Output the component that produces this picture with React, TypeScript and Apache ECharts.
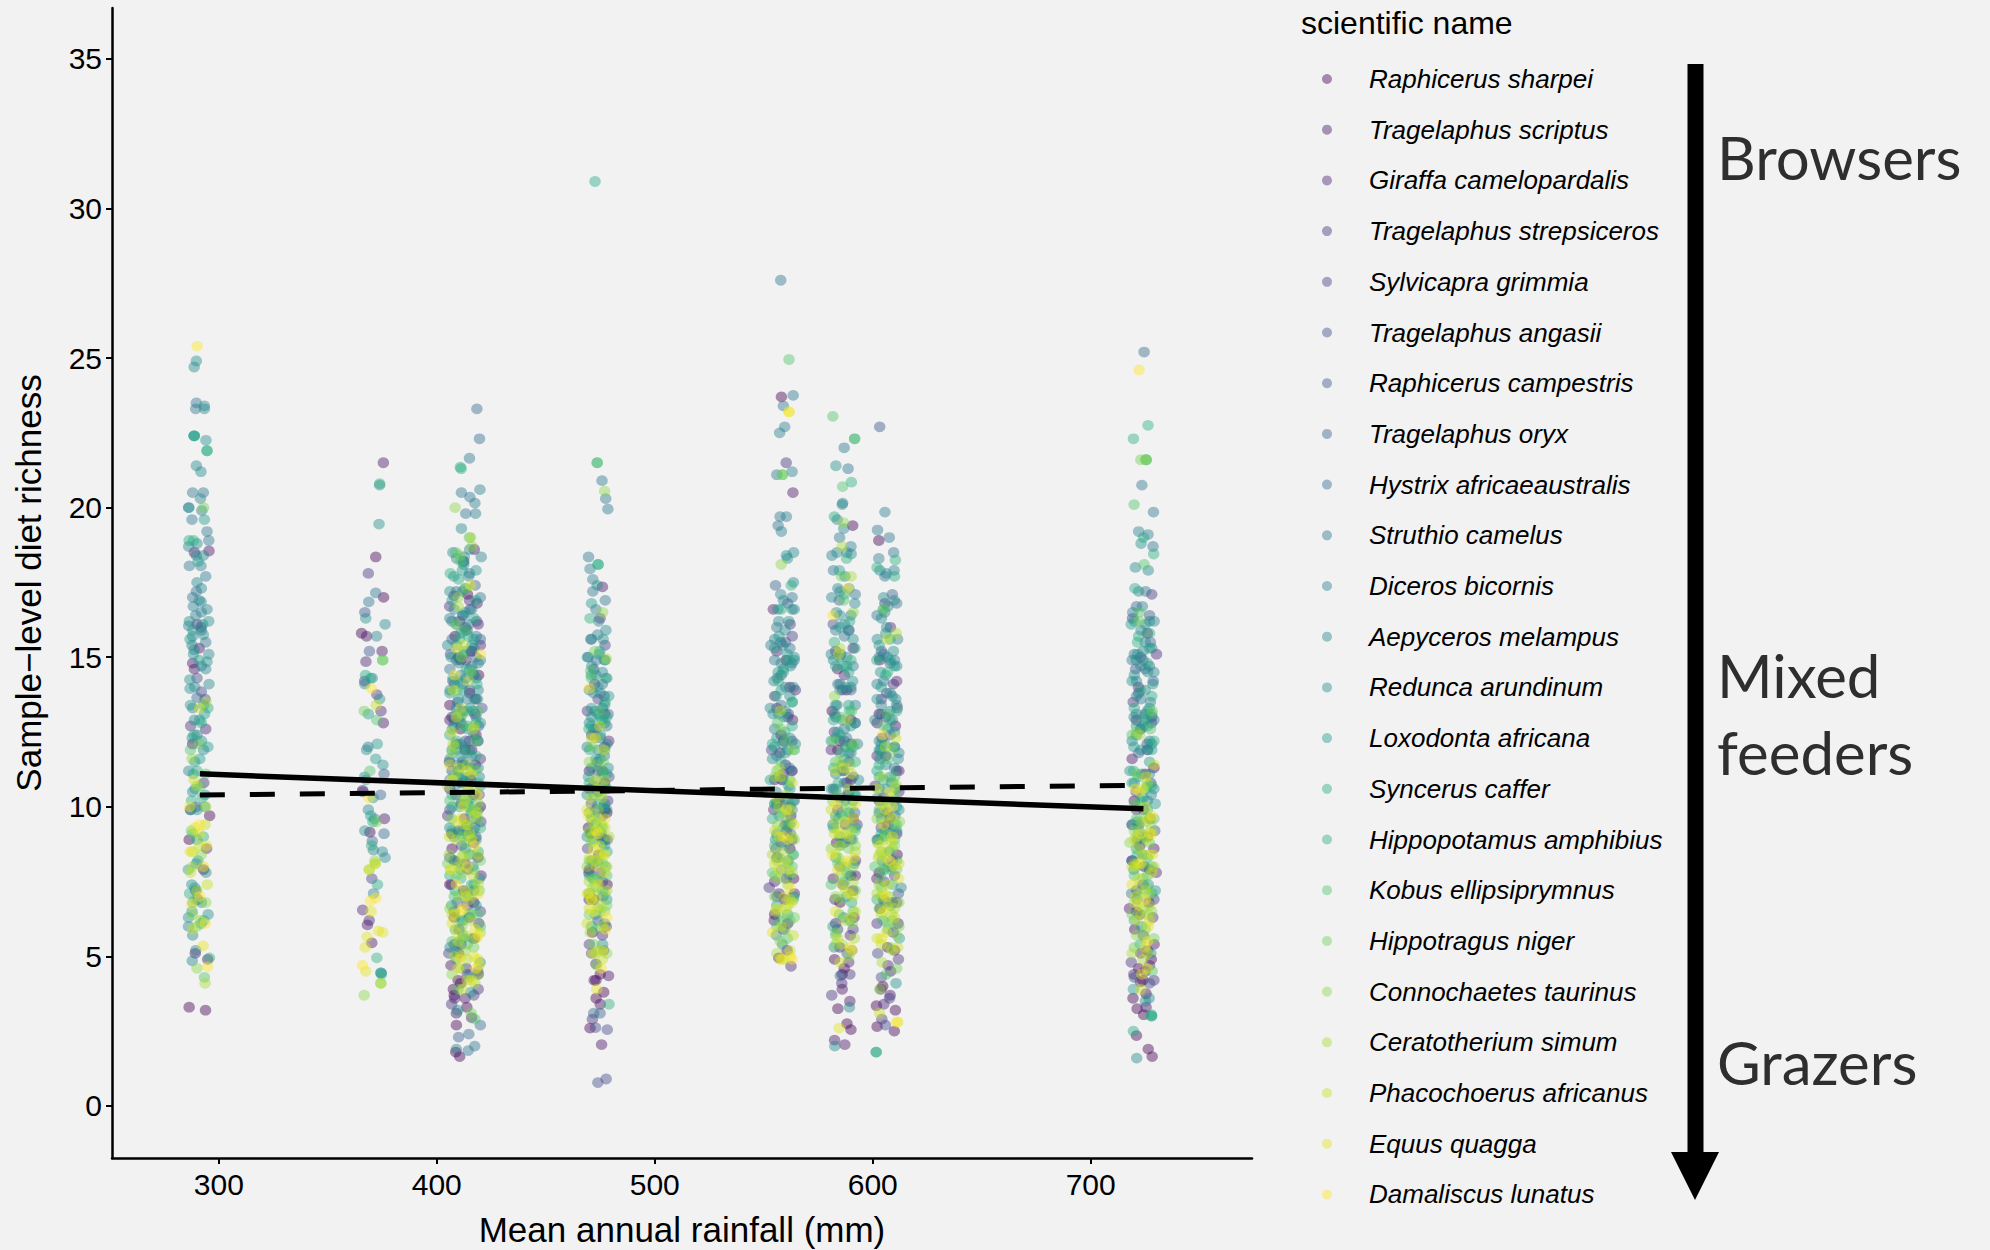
import React, { useEffect, useRef } from "react";
import * as echarts from "echarts";

const speciesNames = ["Raphicerus sharpei","Tragelaphus scriptus","Giraffa camelopardalis","Tragelaphus strepsiceros","Sylvicapra grimmia","Tragelaphus angasii","Raphicerus campestris","Tragelaphus oryx","Hystrix africaeaustralis","Struthio camelus","Diceros bicornis","Aepyceros melampus","Redunca arundinum","Loxodonta africana","Syncerus caffer","Hippopotamus amphibius","Kobus ellipsiprymnus","Hippotragus niger","Connochaetes taurinus","Ceratotherium simum","Phacochoerus africanus","Equus quagga","Damaliscus lunatus"];
const speciesColors = ["68,1,84","71,19,101","72,34,116","71,47,125","68,61,132","63,72,137","58,83,139","53,95,141","49,104,142","44,115,142","40,125,142","36,134,142","33,144,140","31,154,138","34,168,132","43,176,127","79,196,106","112,207,87","139,214,70","168,219,52","197,224,33","226,228,24","253,231,37"];

// Each list is x (rainfall, mm), y (richness), x, y, ...
const raphicerusSharpei = [286.4,3.3,293.9,3.2,295.8,9.7,286.4,8.9,375.6,17,365.5,15.8,369.3,9.15,372,18.35,410.5,1.65,408.7,1.8,409,2.7,413.8,3.3,407.6,3.9,409.8,4.2,417.2,5.6,412.3,7.2,418.9,8.3,406.9,9.1,415.5,10.9,410.8,12.6,419.2,14.4,408.4,15.7,414.1,17.1,470.3,2.6,476.6,3.8,473.1,3.6,471.4,5.8,478.1,7.4,469.6,9.3,475.9,11.2,556.9,4.95,559.7,6.9,563.7,7.6,556.1,8.3,562.4,9.7,558.3,10.9,560.3,14.9,558.1,23.7,588.2,2.75,590,2.55,584,3.25,582.5,4.9,586.9,4.6,590.9,7.2,583.4,8.8,588.7,10.4,581.4,13.2,590.8,19.4,602,2.65,601.7,3.35,610.4,3.2,609.9,2.5,604.6,4,606.8,5.3,603.4,6.6,611.2,8.4,606,11.7,602.8,18.9,728.2,1.65,726.4,1.9,721,2.35,724.3,3.05,721.3,3.25,719.4,3.6,725.4,3.75,727.8,4.9,720.2,5.9,726.7,6.8,722.5,8.7,729,11.3,
  410,5.1,417,6.8,407,8.6,420,10,413,11.9,406,13.4,416,15.2,475,4.4,470,7.9,478,9.8,555,6.4,562,8.6,558,12.4,585,6.8,591,9.6,584,11.9,603,7.8,610,5.2,607,9.4,722,4.6,727,7.9,720,10.2,288,12.1,293,7.9,
  411,4.1,408,3.7,414,9.2,418,13.6,406,7.4,473,4.2,477,10.8,561,6.1,556,10.1,586,4.4,590,12.9,609,6.8,603,13.1,724,4.2,719,8.2];
const tragelaphusScriptus = [288.8,18.5,295.5,18.55,288,14.8,288.8,14.6,289.2,5.1,294.9,4.9,375.5,21.5,367.8,15.7,374.9,15.2,375.5,12.8,370.2,5.45,368.2,6.05,376,9.6,366,10.55,417.2,18.6,409,3.1,416,2.95,406.5,4.7,411.1,5.4,414.9,6.3,420.3,7.7,408.1,8.2,412.7,9.6,417.7,11.4,406,12.9,415.1,13.8,410.4,16.2,418.5,16.8,476,17.35,475.6,2.05,472.2,4.2,478.8,4.35,469.9,6.9,474.3,8.4,477.2,9.9,471.1,12.4,560.7,5.2,554.8,6.2,562.9,8.9,557.4,11.8,563.2,12.9,554.4,16.6,563.4,20.5,560.4,7.6,587.2,2.05,582.5,2.2,589.5,3.5,584.9,5.3,591.4,6.3,581.9,7.6,587.5,9.4,590.1,12.1,583.9,14.6,603.7,3.9,608.2,4.5,611.6,6.1,601.9,7.6,606.7,9.8,610.4,12.7,603.2,14.9,725.4,3.3,722.8,4.15,729.1,5.4,717.8,6.6,724.5,8,727.2,9.6,720.9,12.9,726,15.8,
  419,4.4,408,6.3,413,8.1,406,10.6,418,12.4,411,14.9,472,6.9,477,8.9,470,11.2,560,9.4,555,10.9,562,14,590,10.9,583,6.1,588,13.9,605,6.9,611,9.1,602,12.8,723,5.1,729,8.6,719,11.6,291,15.3,287,9.9,
  413,3.6,416,11.9,409,12.1,475,3.4,471,9.1,559,11.1,564,7.1,586,3.9,592,7.7,608,3.7,612,11.2,725,4.5,721,6.5];
const giraffaCamelopardalis = [290,16.1,289.4,7.2,294.4,8.6,293.1,10.8,366,6.55,369,6.2,367.5,14.85,374.4,13.2,408.2,3.6,413.6,4.6,419.3,6.1,406.7,7.4,416.9,8.8,411.2,10.1,405.8,11.5,418.7,12.2,413.3,14.9,407.9,17.05,420,15.4,473,4.75,477.7,6,469.8,7.8,475.1,9,478.9,12.2,472.4,14.1,562.5,4.67,557,7.1,554.6,9.9,559.1,12.2,564.5,13.9,556,15.2,585.8,4.1,589.7,5.7,582.7,6.9,592.1,8.2,586.4,11.2,581,11.9,591,15.3,605.1,3.4,609.4,5.8,602.4,8.9,612,10.5,604.3,12.3,608.1,16,719.8,4.4,726.1,5.2,722.5,6.4,730.1,7.8,719,9.4,725,11.1,721.9,14,730.2,15.1,
  414,6.7,410,9.2,417,10.4,407,13,419,16.1,475,7.8,470,10.6,477,13.1,558,8.8,563,11.2,556,13.3,584,9.9,590,7.7,587,14.4,609,8.2,603,10.2,611,14.2,724,7.4,721,9.9,728,13,294,12.6,
  408,5.4,415,16.9,412,13.2,476,5.7,474,10.5,555,7.5,560,11.4,585,12.2,589,4.8,607,4.7,602,11.7,722,9.4,727,4.7];
const tragelaphusStrepsiceros = [290.4,6.9,287.1,12.7,366.9,14.2,368.6,17.8,372.5,13.75,406.8,3.4,410.2,5.9,414.2,7.9,420.2,9.5,408.7,10.4,417.5,13.1,413.9,15.9,405.9,16.7,471.4,2.9,476.5,5.2,478.4,10.2,469.1,13.2,474.9,16.3,552.5,7.3,560.5,9.2,555,13.7,560.3,21.5,562.1,16.1,581.2,3.7,589.5,4.4,586.3,7.4,592.8,9.4,582.4,12.5,604.2,2.9,611.8,4.9,605.2,7.5,601.1,10.7,609.5,14.1,718.6,4.8,728.5,6.3,724.2,9.9,719.5,13.5,728,17.1,
  411,12.8,417,14.4,408,6.5,419,3.9,473,9.9,477,12,559,5.9,563,12.2,587,8.8,583,15.2,606,13,602,6.1,726,11.9,721,7.2,729,4.2,
  405,9.7,414,4.4,420,11.6,470,5.4,476,7.5,557,10.2,588,10.8,605,10.3,611,6.8,723,12.6];
const sylvicapraGrimmia = [293.7,13.6,289.6,10,370.2,7.6,366,10.5,405.5,5.1,418.8,4.5,411.4,8.7,419.4,10.4,407.4,14.2,415.9,15.2,412.2,18.2,469.2,8.6,473.7,11.5,477.2,15.4,559.2,10.1,553.6,11.9,563.1,15.7,583.9,5.9,590,8.9,586.1,13.9,607.7,3.6,603.9,9.3,610.9,11.2,605.6,16.8,724.1,5.7,720.8,10.5,727.9,12.8,719.2,16.3,
  406,8.3,415,12.2,420,6.5,471,5.1,476,9.7,556,7,561,13,582,10.6,591,5.9,610,7.7,604,13.6,729,6.9,722,13.8,
  410,11,417,3.7,474,13.6,589,11.5,608,9.6,726,9];
const tragelaphusAngasii = [473.9,0.78,477.7,0.9,478.2,2.55,472.8,2.62,409.4,6.8,417,7.2,412,11.4,420.7,13.3,406.3,15.1,415.2,16.6,470.9,10.1,476.8,13.7,555.5,8.6,561.3,13.1,585,10.3,591.9,12.8,581.9,16.1,602.3,5.1,608.8,8,605.8,2.7,611.3,13.3,721.4,8.9,727.6,10.8,722.9,15,290,14.3,292,13.85,
  413,16,407,11.2,418,9,474,6.2,479,11,558,14.4,589,15.9,585,8,608,12.4,725,13.1,720,4.3,
  415,13.9,409,14.9,472,8.1,562,10,587,12.2,604,4.3,727,4.1];
const raphicerusCampestris = [603.2,22.7,367,16.5,369.1,15.2,291.8,16,413.2,12.2,418.3,16.2,409.6,13.5,417.4,9.3,473.1,12.6,478.2,8.9,557.8,15.5,562.7,11.2,588.3,5.1,585.3,15.1,606.4,13.8,611.8,7.1,725.9,12.1,720.6,14.6,729.4,9.2,
  410,15,415,11,406,9.9,472,14.6,560,15.5,583,13,591,11,604,15.2,727,16.4];
const tragelaphusOryx = [375.8,11.1,374.2,10.4,410,2.3,411.2,10.8,417.6,17.4,419.2,12.7,474.9,3.1,470.7,15.6,476.2,7,555.4,17.4,564,10.2,584.6,16.9,590.4,5.2,603.6,11.9,609,17.1,722,11.8,728.7,14.2,718.9,8.2,
  412,16.4,408,12.9,420,15.6,474,11.2,561,16.8,587,10.8,610,12,724,14.9];
const hystrixAfricaeaustralis = [724.5,25.2,290,13.65,289.7,17.2,370.4,8.85,375.8,9.1,414.7,2.4,420,2.7,418.4,23.3,419.6,22.3,413.4,14.3,407,15.6,472,3.1,478.6,13.1,556.2,14.3,562.2,9.1,585.1,4.35,591.7,9.8,605,15.1,610.2,9.7,721.3,6.9,727.4,15.5,
  416,14.7,409,17.2,472,12.6,563,14.8,585,14.1,608,14.8,721,16.7,
  413,11.4,418,15,476,14.1,558,13.4,590,13.9,603,9.8,725,14.6,292,15.9];
const struthioCamelus = [289.7,23.5,289.4,23.3,292.9,20.5,288,20.5,287.7,19.6,292.2,19.9,294.6,19.2,295.4,18.9,286.5,18.05,294,17.7,368.8,16.85,372,17.15,368.5,12,417.4,2,414.4,1.85,415,21.65,411.3,20.5,413.3,19.8,415.2,20.35,409.4,11.4,414.7,16.1,418.1,15.7,475.8,20.9,477.5,20.3,478.5,19.95,469.6,18.35,477.3,16.9,471.6,17.2,473.2,14.9,557.8,27.6,563.5,23.75,559,23.4,556,21.1,557.5,19.7,556.6,19.4,584.8,19,587,15.7,586.9,22,588.7,21.3,602.2,19.25,607.6,19,609.6,18.5,605.6,17.7,723.5,20.75,728.8,19.85,725.2,17.2,728.6,18.7,
  406,14.6,415,17.8,418,13,410,15,476,13.3,470,13.9,556,16,562,15.3,582,17.9,592,17.1,584,14.1,602,16.4,611,16.8,605,14.2,720,15.1,728,15.3,723,13.6,288,17,294,15.5,
  412,14.1,407,16.2,420,17,416,11.7,473,16.6,478,12.7,555,14.9,563,17,587,12.6,590,16.4,609,12.9,604,13.1,721,13.1,727,14.7,290,12.4];
const dicerosBicornis = [288.3,16.7,286.2,16.05,289.4,16.4,294.6,16.6,292,16.5,291.8,18.05,287.7,15.4,289.4,5.2,374.4,4.45,371,7.1,370.9,8.55,371.4,9.6,409,1.9,417.8,19.8,417.5,20.15,412.6,18.35,420.4,18.35,419.8,20.6,412.4,15.1,408.1,14.1,416.7,13.2,411.7,11.5,413.8,9.4,469.5,15,471.6,17.6,470.3,17.95,474.3,16.2,473.8,15.75,472.6,13.2,476.9,11.7,563,21.2,559.6,22.7,557.3,22.5,558.1,19.2,560.4,19.7,553.3,15.4,556.8,13.1,561.8,11.3,558.2,7.9,586.2,20.15,583.7,19.6,590,18.7,581.3,18.4,588.1,18.5,583.6,13.4,589,11.8,581.7,9.4,586.6,6.3,605.6,19.85,602.8,18.3,609.8,17.9,605.5,16.5,611.4,15.6,603.9,13.4,608.7,10.8,604.4,8.2,722,19.2,726.3,19.1,723.7,16.7,719.3,16.5,727.4,13.5,723.3,11.1,718.8,7.1,
  406,16.3,411,14.4,419,14.8,415,11.9,408,12.7,478,14.3,471,11.3,475,12.3,555,12.6,560,14,564,16.6,587,16.1,583,15.9,590,14,593,12.1,607,16.7,603,12.2,610,14.9,612,11.8,721,14.2,725,15.5,729,12.9,292,14.7,288,13.3,
  413,17.3,417,15.3,410,12.9,406,10.9,418,9.6,473,14.4,469,12,477,10.1,559,16.9,556,11.7,562,9.4,585,17.2,591,14.7,583,11.1,589,10.5,608,13.8,602,14.1,606,9.2,611,13.4,719,14.9,727,16.2,723,14.7,726,10.2];
const aepycerosMelampus = [288.7,24.7,293.4,23.4,293.4,23.3,291.6,20.3,286.2,20,286.2,20,291.8,21.2,289.7,21.4,286.2,18.7,290,18.8,289.7,18.4,292.9,18.4,290,17.5,292,17.3,291.9,16.85,288,15.7,288.7,15.25,295.4,15.1,294,14.6,287.8,4.85,286.1,6,288,5.7,289.7,8.1,286.2,11.2,288.8,12.9,294.1,7.8,295.5,14.1,367,14.1,370.4,14.3,366.9,11,368.6,9.9,373.8,20.75,376.3,16.1,372.4,15.7,376.3,8.3,375,8.5,412.4,18.2,407.4,18.5,409.1,18.3,415.1,18.6,411.3,19.3,414.7,17.7,411.9,16.4,406.1,13.9,417.2,13.6,410.8,12.1,419.5,11,414.2,10.1,408,9,416.6,8,419.9,4.8,406.1,5.3,409.6,3.2,474.5,15.1,477.6,15.9,476,14.5,471.1,14.7,469.1,15,478.1,12.1,473.1,10.9,470.5,9.1,477,6.1,471,8.2,563.7,18.5,560.4,18.4,557.8,17.1,563.6,17.5,556.9,16.2,559.8,15.9,562.3,14.7,554.7,14.2,558.7,12.1,555.6,10.5,561.2,8.2,555.8,5.7,563.6,14,586,20.1,586.7,19.3,583.6,18.5,590.1,18.45,587.3,17.7,581.2,17,583.4,16.5,591.8,16.8,588.1,15,583.2,12.3,587.1,10.2,591.5,8.1,582.6,2,589.3,3.3,603.3,17.9,606.2,17.8,609.9,16.9,602.1,15.6,606.7,15,610.6,13.6,603.4,11.6,608.1,9.1,613,7.3,720.5,18,726.4,17.9,723.1,15.9,729.1,16.2,720.9,14.9,726.2,14.5,722.9,12.6,727.8,10.4,719.8,7.9,721.1,1.6,725.1,3.5,726.8,3.6,
  405,15.4,409,13.3,413,15.9,417,12.4,420,14.9,412,10.9,407,11.9,418,8.9,472,13.8,477,13.4,470,12.8,474,11.9,558,14.8,553,13.3,564,15,561,11.9,556,9.1,589,15.9,581,15.1,585,13.9,592,13.4,586,11.4,604,16.3,611,14.7,608,13.2,601,12.9,606,10.6,722,17.2,729,14.5,725,13.9,719,12.2,727,12.2,289,14,293,11.9,288,10.5,
  408,16.6,411,11.7,416,16.6,414,13.6,406,9.3,419,13.9,475,13.8,478,10.6,471,15.6,555,15.6,559,10.9,562,13.7,584,17.3,588,12.3,582,14.9,590,11.8,605,17,610,11.3,603,15,607,8,721,13.7,727,11.1,724,15.2,720,10.8,291,16.9];
const reduncaArundinum = [289.7,24.9,288.7,22.4,294.1,22.25,292.6,16.1,295.4,16.2,286.5,16.2,292.9,15.75,288.4,15.1,294.6,14.85,286.7,14.25,286.8,13.95,287.8,12.3,292.1,12.2,291.2,12.9,293.7,10.4,290,9.9,287.6,7.4,286.1,6.3,295.1,6.4,292,6.8,373.5,19.45,373.8,13.6,367.4,16.3,375.3,11.4,367.8,11.9,367,9.2,370.8,10.3,412.4,18.1,407.8,17.7,411.8,17.2,413,16.5,416.2,15.4,410.2,14.8,418.1,14.3,415.3,13.3,407.1,12.6,412.6,12,408.5,10.7,419,9.9,414.7,9,410.8,7.9,418,6.7,412,5.6,415.7,3.8,473.6,17.4,476.3,15.6,470.9,14.4,474,13.1,478.6,11.3,472,10.7,475.5,9.1,470.1,7.1,476.1,5.4,556.5,16.6,561.5,16.2,558.7,15.4,554.3,13.1,564.5,12.1,559.8,9.9,555.4,8.9,563.8,7,558.6,5.4,560.9,18.3,583.1,21.4,589.1,17.3,584.9,16.4,590.8,14.2,582.6,13.1,587.6,12,593.5,10.9,585.1,9,589.6,6.2,582.3,5.3,606.4,16,609.5,15.2,603.6,14.5,605.5,12.1,611.7,11.6,602.2,10.3,607.6,8.5,605.7,6.8,610.7,4.1,723.1,18.8,725,16.1,721.5,15.1,728.5,14.1,719.9,13,726.2,11.9,723.3,9.1,729.6,7.2,727.6,5.1,
  406,17.2,418,17.9,414,12.6,410,11.2,420,12.8,411,15.8,416,10.3,477,14.9,473,12.3,469,10.4,478,9.9,557,11,562,10.6,554,11.6,560,13.2,564,14.9,591,15.6,586,12.9,581,12.2,589,9.8,583,10.6,609,13.7,606,11.4,602,13.6,612,9.9,604,9.6,720,14.4,726,13.2,723,11.9,718,11.2,729,10.6,293,13.4,289,11.5,
  409,15.4,415,14.6,406,11.6,412,9.2,419,11.3,413,7,475,11.6,471,13,477,12.8,469,9,559,14.6,563,16.6,556,12.3,585,15,588,14.7,583,8.3,591,10.2,606,15.8,610,10.2,603,11.9,608,11,721,12.4,728,12.1,725,12.9,719,14.2,724,8.4];
const loxodontaAfricana = [288.7,22.4,293.4,19.6,290.5,18.2,288.1,15.9,286.8,15.6,293.5,13.1,291.3,11.6,288.3,11.1,295,12,289.1,10.6,287.1,9.9,293.5,10,290.4,8.2,287.7,6.5,291.9,6.1,286,7.9,372,11.6,368.6,13.1,374.4,4.45,367.5,10.9,369.7,9.7,372.7,12.1,411.7,17.9,408.9,16.1,417.9,16.9,406.6,15,413.6,14.6,418.7,13.6,411,13,409,11.9,415.6,11.3,407.1,10,413.2,8.6,419.6,7.6,406.8,6.7,416.2,5.6,408.9,4.9,414.8,4.3,471,16.8,477.2,14.9,473.9,14,478.9,13.7,470.8,12.7,475.1,12.4,469.6,11,476.5,10,471.9,8.9,478,6.9,472.7,6.4,560.8,15.1,556.6,14.5,563.1,13.5,559.3,13,554.8,12,561.4,10.7,557.1,9.7,563.6,8.4,556,6.7,584.7,17.9,591.8,15.3,587.4,14,582.9,13.4,586.7,11.2,591.5,10.4,584.3,9.6,589.4,7.7,581.8,6,609.9,14.7,603.9,14,606.9,12.6,602.8,10.6,610.9,10,605.3,7.9,612.2,5.6,601.6,1.8,718.6,16.1,726.9,13.3,724.1,12.7,719.8,12,729.6,10.1,721.3,9.5,726.4,7.4,723.4,6,719.6,3.9,727.9,3,
  407,16.9,412,13.9,419,12.2,416,9.8,408,8.2,414,7.1,476,12.9,471,13.3,474,10.1,478,11.1,555,15.3,558,13.9,562,12.3,553,10.9,589,13.4,584,12.5,592,12.8,581,10.6,586,8.8,604,12.1,610,12.5,607,10.1,602,8.9,721,12.7,727,11.5,724,10.3,719,9.4,291,14.9,287,13.4,
  410,13.6,417,15.6,406,13.8,415,8.4,420,10.7,412,6.2,473,11.6,477,8.7,470,9.8,560,11.8,557,15.7,563,9.9,585,16,590,12.7,583,9.7,588,7,608,14.9,603,15.4,611,9.2,605,9,720,16.2,726,12.7,723,8.9,728,11.9,289,7.3];
const syncerusCaffer = [294.6,21.9,288.7,22.4,295,13.3,286.4,18.9,288.6,12.4,292.4,10.3,290,8.9,288.1,6.8,293.1,6.2,367.3,14.4,369.6,14.3,374.6,4.4,370.7,9.5,372.8,7.4,410.8,21.35,414.5,15.7,410,17.6,412.7,15.2,407.4,14.3,418.4,14.1,414,12.7,410.5,10,416.5,9.2,408.4,7.2,414.8,6.4,474,18.1,474.8,15.2,477.2,13.5,470.2,11.9,476,11.1,473,9.4,478.1,8.5,471.6,7.6,561.4,14.9,555.7,13.7,558,11.5,563.4,10.2,556.5,9,561,6.4,582.4,19.7,589.4,16.2,586.4,14.7,582.1,11.3,592.1,10.4,585.1,8.7,590.3,6.8,610,17.7,604.8,16.6,601.9,14.9,607.9,12.9,611,10.6,603.9,9.1,608.2,6.7,725.4,21.6,724.2,19,720.3,17.3,727,15.3,722.8,13.9,729,12.2,725.5,10.6,721.4,8.4,727.9,3.05,719.6,2.5,
  472.6,30.9,417,16.3,410,14.2,406,12.4,414,9.4,419,8.5,411,6.2,477,11.9,471,9.6,558,16.6,563,12.7,555,10.1,587,17.1,583,14.7,591,12,585,12.4,608,15.6,603,11,611,8.2,722,15.7,728,13.7,724,9,719,10.8,292,12.8,
  413,11,407,10.4,416,7.4,409,5.2,418,11.7,475,12.9,470,7.7,476,8.8,559,14.5,554,12.1,561,9.4,589,14.5,582,12.9,587,11.6,592,9.3,606,14.4,610,12,602,11.2,726,14.8,720,13.3,723,10.2,728,10.7];
const hippopotamusAmphibius = [288.4,18.9,294.6,21.9,295.7,4.95,287.5,10.2,292.9,9,286.6,7.1,373.8,20.8,372.5,4.95,370.1,8.7,411.2,21.3,406.2,17.8,410.4,15.6,416.7,14.5,408.8,13.1,413.7,11.8,419.1,10.8,410.9,9.1,417.1,7.4,408.5,5.9,473.6,21.5,474,18.1,470.3,16.3,479,3.4,477.4,14.3,469.8,12.6,474.9,10.6,477.5,8,562.6,17.4,556.8,14.2,559.7,12.5,555.2,10.1,562,7.7,591.7,22.3,590.2,20.85,588,18.3,582.4,15.5,589.3,13.2,584.2,10.8,590.8,8.9,610.4,18.25,602,18,606.8,14.5,603,11.4,610,9.4,604.8,6.2,601.6,1.8,726.3,22.75,719.6,22.3,728.9,18.45,721.5,15.5,728,13.1,719.7,11.2,726,8.3,722.7,5.4,727.9,3,
  414,13.2,420,9.3,407,9.2,411,7.6,472,10.4,476,7.2,471,6,560,8.7,557,6.2,563,13.5,586,9.7,592,11.5,582,9.3,605,10.9,609,7.4,602,6.9,722,11,726,9.9,728,7.1,720,6.2,290,11.2,
  409,12.2,418,12.8,412,5.7,406,7.7,415,10,474,8.2,478,13,470,10.8,554,9.6,561,10.2,564,11.9,585,11.8,590,14.9,587,7.5,604,11.8,611,13.2,607,5.9,725,13,721,8.6,727,15.8];
const kobusEllipsiprymnus = [287,11.9,291.6,10.7,293.4,4.3,289.4,6.9,372.5,12.9,375.2,14.9,369.3,11.2,408.7,18.5,411,18.2,415,19,413.1,15.9,409.3,13.9,418,12.2,407.5,11,415.3,9.9,411.4,8.1,418.7,6.4,409.7,3.9,417.5,2.9,470.6,14.55,470.9,14.3,473.6,21.5,474.8,13.2,477.1,10.7,471.2,9.7,476.2,8.1,472.9,5.9,561.6,24.95,558.6,21.1,556.3,12.8,561.9,10.9,555,8.7,563.6,6.9,560.8,5.6,586.2,20.7,581.7,23.05,591.7,22.3,586.7,16.9,590.3,13.2,582.9,11.5,588.4,9.5,584.7,6.4,606.7,13.1,610.1,11,603.6,7.7,609,6.2,606.2,4.4,719.9,20.1,725.5,21.6,722.4,16.5,727.4,12.6,720.1,10.1,726.1,7.7,728.2,4.5,724.5,18.1,
  406,10.2,416,9,412,12.7,420,6,408,7,475,9.2,470,8.2,478,7.7,473,11.4,556,6,559,9.3,563,8,554,7.8,587,8,592,9.2,581,7.4,585,13,611,9.4,604,8.5,607,11.6,601,8,721,9.6,725,8,729,9.6,723,7,719,12.4,288,9.1,294,11.1,
  411,10.3,417,7.9,414,5.4,407,5.5,419,13.2,472,7.6,476,11.2,474,6.6,557,8.3,562,6.2,560,12.2,589,12,584,10.4,591,6.5,583,5.7,605,12.7,610,8.9,603,9.9,608,7.9,726,10.7,722,9.2,720,7.7,728,8];
const hippotragusNiger = [293,20,291.1,12.1,287.4,9.2,290,6,375.2,14.9,372.2,9.5,366.7,13.2,410.6,18.4,413.4,17.3,408.9,16.1,415.5,14.5,411.7,13.1,418,11.2,406.8,9.6,413,8.8,419.5,7.2,410.2,5.5,415.8,3.1,472.5,15.2,476.4,11.5,470.9,8.8,477,7.1,473.4,4.7,558.6,21.1,557.8,12.6,562.7,9.5,555.2,7.7,559.8,5.9,585.7,17.7,591.4,12.1,581.7,10.2,588.1,7.8,583.1,5.8,605.1,16.6,609.5,10.8,602.3,8.8,607.7,7,611,4.6,723,21.6,722.2,16.2,728.2,13.2,720.1,8.1,725,5.9,
  405,8.1,414,10.6,419,9.6,409,7.7,417,5.3,471,12,476,9.3,474,7.6,470,6.4,561,8.1,556,11.2,564,6.3,590,10,584,8.1,592,7.2,582,12.2,606,9.1,611,7.9,603,6.6,609,11.9,727,8.8,721,11.1,724,7.6,719,6.4,729,5.6,
  412,9,416,6.4,408,10.9,420,8.2,411,4.6,475,10.4,478,6.7,472,5.4,558,9.8,555,7,563,8.4,587,9.8,585,6.9,589,8.6,605,8,610,10.4,604,7.3,612,6,722,10,726,7.3,720,5.3];
const connochaetesTaurinus = [287.7,11.6,294,6.8,290,4.6,366.7,3.7,374.3,4.1,371.6,8.2,408.4,20,416.2,18.7,409.7,17,411.4,15,417.2,12.7,407.1,11.8,413.8,10.3,405.7,8.4,416.1,7.1,411.5,6,418.8,4.4,477,20.55,476.1,16.5,470,11.5,475.6,9.4,471.6,7.3,474.7,5.2,558,18.1,563.2,11.9,556.3,9.4,561.1,7.4,557.6,5.5,586.6,19.5,591,16.5,582.5,13.7,589.7,11.4,584.2,8.3,590.6,6.1,612.3,9.5,604,7,608,5.3,603.2,3.9,725.4,21.6,720.9,12.5,727.8,9.3,722,7.3,724.9,5.6,
  410,7,415,8.4,419,10.1,406,6.6,413,5.2,408,12,477,8.4,472,9.2,469,8,475,6.5,478,5.1,555,11,560,9.7,564,8.9,557,7.6,586,10.1,591,8,583,7,589,5,581,8.6,605,8.9,610,8.7,607,6.1,602,9.6,612,6.8,723,9.5,718,8.8,727,7.1,721,5.7,726,10.8,292,8.4,288,6.4,
  414,11.4,417,9.9,407,4.4,412,8.4,409,11.1,474,9.9,470,9.2,477,6.5,473,7.3,561,6.7,556,8.2,559,6.4,588,9.1,585,7.7,592,8.7,583,5.4,606,10.2,609,8.6,603,7.4,611,5.7,725,9.7,720,9.2,724,6.6,728,6.5];
const ceratotheriumSimum = [294.1,13.5,289.9,10.7,287.9,8,291.5,6.2,293.7,4.1,369,7.9,371.8,8.1,374.4,4.1,415.5,19,409.9,16.7,414.4,14.2,407.5,12.1,418,10.6,412.7,9.4,406.3,7.9,415,6.9,410,5.5,417.5,4.1,477.8,14.95,471,12.3,475.8,10.3,472.6,8.2,478,7.2,470.4,5.8,557.1,11.3,563.2,9,555.4,6.5,559.4,4.9,586,18.7,590.1,17.7,584.9,15.3,588.3,12.9,582.6,9.5,587.5,7.2,591.6,5.6,610.8,15.8,605.8,12,602.6,8.3,608.8,6.4,604.3,4.8,722.4,12.4,725.5,9.5,720.4,8,727,6.7,723.9,4.9,
  412,7.8,417,9.7,405,10.7,409,8.9,420,5.8,414,4.9,474,9.6,470,7.5,476,6,473,5.1,479,9,560,10.4,554,8.4,562,6.9,558,8.5,585,11.5,590,9.2,583,8.4,587,6.2,592,8.5,604,11,611,10.7,606,8.3,609,5.2,602,7.1,725,7.2,721,9,729,8,723,6.4,719,5.1,290,7.2,294,10,
  411,13.3,415,6.2,408,5,419,8.4,413,10.2,477,10.9,471,6.9,475,8.4,557,10,563,7.8,556,5.1,589,10.6,584,9.2,591,7.5,586,5.4,607,9.7,610,6.6,604,6.4,722,8.6,727,8.4,720,6.8,726,6.4];
const phacochoerusAfricanus = [291.2,13.3,288.6,10.9,293.7,9.4,287.9,8.5,294.7,7.4,288,5.9,371.8,8.1,369,7.9,372.2,13.4,412.2,15.4,416.8,12.6,407.6,13.9,410.5,11.3,414.7,10.7,418.5,9.8,405.8,9,411.8,8.3,416.6,7.7,408.3,6.4,413.4,5.7,419.4,4.7,411.7,3.9,474.8,12.7,470.7,10.3,477.1,9.3,473.2,8,469.2,7.1,475.2,6.7,471.5,5.1,557.6,13.2,562.3,9.9,554.9,8.1,559.7,7,563.5,5.7,557.5,4.9,584.4,15.1,590.3,11.1,582.4,9.1,587.4,8.1,592,6.5,585,4.8,606.7,15.6,610.5,12.3,603.8,10.1,608.5,8.8,604.9,7.1,611.5,5.3,603.1,3.1,729.1,11.4,722.4,10.5,725.8,8.9,720.4,7,727,6.2,722.9,3.9,
  409,9.5,413,7.2,418,5.6,406,11.4,415,9.1,411,5,478,8,471,9,475,8.3,470,6.6,473,7,476,4.9,555,9.2,561,7.9,558,6,563,10.8,586,7.4,589,9,581,9.9,591,7,584,5.6,607,7.4,610,6.3,603,8.4,606,9.9,612,8.1,602,5.6,724,8.4,721,6.2,728,7.8,726,5.1,719,8,291,8.7,287,7.8,
  416,11.1,410,8,407,6.4,419,7.4,414,4.2,474,10.6,477,7.8,472,9.5,469,6.1,560,8.2,556,10.3,562,5.2,585,8.7,590,6.3,583,11.2,606,8.5,609,9.6,604,5.4,725,10,722,7.6,727,9.6,720,8.9];
const equusQuagga = [292.8,5.35,286.9,8.5,294.4,8.7,291.1,9.1,373.2,5.85,375.2,5.8,367.1,5.3,368,5.65,369.9,6.5,367.5,4.5,415.5,17.4,409,15.3,406.9,12.5,414,11.2,418.6,10.4,411.1,9.6,406.5,7.9,413.4,7,417.6,5.9,409.8,4.6,415.9,4.2,419,4.9,472.7,10.9,476.6,11.9,470,8.3,474.6,8.7,469.5,7.1,477.4,5.9,473.4,3.9,561.6,23.2,557.5,11,563.8,9.4,560.1,6.6,562.2,5,586.9,11.3,591.5,8.3,584,7.9,589.5,5.3,584.6,2.6,607.8,10.5,603.2,8.7,611.9,7.6,606.3,5.8,611.5,2.8,725.4,11,728.4,8.4,721.6,8.1,726.4,6,723.4,4.4,
  407,6.1,411,6.5,416,8.9,412,10,419,7.1,409,13,474,7.4,471,6.9,477,9.6,473,9.2,469,9.9,561,8.9,556,6.6,559,9,554,5.8,585,9.1,589,7.1,592,10.1,583,6.5,605,9.4,610,8,607,6.7,604,5.6,602,10.6,724,10.6,722,6.7,727,9.1,719,7.4,726,4.6,289,9.3,293,8,
  414,9.4,417,5,409,5.8,472,8.6,476,5.2,557,7.9,563,6.8,588,8.2,591,9.6,605,6.5,609,9,723,8.1,728,9.1,725,5.3];
const damaliscusLunatus = [290.1,25.4,294.9,4.65,286.7,10,291.1,9.4,293.8,6.1,287.6,6.75,291.2,7,370,13.95,368.9,10.3,369.5,6.85,372,6.95,365.9,4.7,420.1,15.1,408.2,14.4,407,10.9,417.5,8.7,412,6.6,419,5.7,410.6,4.9,470,13.95,472.8,12.3,469.5,9.7,477,8.4,472,6.5,475.4,4.6,561.6,23.2,560.4,9.9,558.3,4.9,563,4.9,581.7,16.4,588.6,17.3,581.4,8.4,590.4,5.2,611,2.8,607.8,8.2,604.6,12.4,722.2,24.6,728.1,9.7,726.1,5.5,720.3,10.6,
  414,8,418,4.6,409,7.4,474,9.1,478,6.3,557,9,562,7.3,587,9.5,583,10.1,606,7,609,10,723,9.1,725,6.9];
const speciesPoints = [raphicerusSharpei,tragelaphusScriptus,giraffaCamelopardalis,tragelaphusStrepsiceros,sylvicapraGrimmia,tragelaphusAngasii,raphicerusCampestris,tragelaphusOryx,hystrixAfricaeaustralis,struthioCamelus,dicerosBicornis,aepycerosMelampus,reduncaArundinum,loxodontaAfricana,syncerusCaffer,hippopotamusAmphibius,kobusEllipsiprymnus,hippotragusNiger,connochaetesTaurinus,ceratotheriumSimum,phacochoerusAfricanus,equusQuagga,damaliscusLunatus];
const solidTrend = [[291.3,11.1],[724.2,9.93]];
const dashedTrend = [[291.3,10.39],[724.2,10.72]];
const xTicks = [300,400,500,600,700];
const yTicks = [0,5,10,15,20,25,30,35];

function pairs(flat: number[]) {
  const out: number[][] = [];
  for (let i = 0; i + 1 < flat.length; i += 2) out.push([flat[i], flat[i + 1]]);
  return out;
}

export default function App() {
  const ref = useRef<HTMLDivElement>(null);
  useEffect(() => {
    document.body.style.margin = "0";
    const chart = echarts.init(ref.current!, undefined, { renderer: "svg" });
    const scatter = speciesNames.map((name, i) => ({
      name,
      type: "scatter",
      symbol: "circle",
      symbolSize: [11.5, 10.8],
      itemStyle: { color: `rgba(${speciesColors[i]},0.55)`, borderWidth: 0 },
      data: pairs(speciesPoints[i]),
    }));
    const font = "Liberation Sans";
    const rightText = (text: string, y: number) => ({
      type: "text", x: 1717, y,
      style: { text, font: "60px Lato", fill: "#2e2e2e", verticalAlign: "middle", align: "left" },
    });
    chart.setOption({
      animation: false,
      backgroundColor: "#f2f2f2",
      grid: { left: 112, right: 738, top: 8, bottom: 92, outerBoundsMode: "none" },
      xAxis: {
        type: "value", min: 251, max: 774, splitLine: { show: false },
        name: "Mean annual rainfall (mm)", nameLocation: "middle", nameGap: 54,
        nameTextStyle: { fontFamily: font, fontSize: 35, color: "#000" },
        axisLine: { onZero: false, lineStyle: { color: "#000", width: 2.5 } },
        axisTick: { length: 6, lineStyle: { color: "#000", width: 2 }, customValues: xTicks },
        axisLabel: { fontFamily: font, fontSize: 30, color: "#000", margin: 11, customValues: xTicks },
      },
      yAxis: {
        type: "value", min: -1.74, max: 36.7, splitLine: { show: false },
        name: "Sample\u2212level diet richness", nameLocation: "middle", nameGap: 66, nameRotate: 90,
        nameTextStyle: { fontFamily: font, fontSize: 35, color: "#000" },
        axisLine: { onZero: false, lineStyle: { color: "#000", width: 2.5 } },
        axisTick: { length: 6, lineStyle: { color: "#000", width: 2 }, customValues: yTicks },
        axisLabel: { fontFamily: font, fontSize: 30, color: "#000", margin: 10, customValues: yTicks },
      },
      legend: {
        orient: "vertical", left: 1317, top: 59, data: speciesNames, icon: "circle",
        itemWidth: 74, itemHeight: 10, itemGap: 20.7,
        textStyle: { fontFamily: font, fontStyle: "italic", fontSize: 26, color: "#000", lineHeight: 30 },
        selectedMode: false,
      },
      series: [
        ...scatter,
        { name: "solid", type: "line", data: solidTrend, showSymbol: false, silent: true, lineStyle: { color: "#000", width: 5.5, cap: "butt" } },
        { name: "dashed", type: "line", data: dashedTrend, showSymbol: false, silent: true, lineStyle: { color: "#000", width: 5, type: [25, 25], cap: "butt" } },
      ],
      graphic: [
        { type: "text", x: 1301, y: 23, style: { text: "scientific name", font: `32px "${font}"`, fill: "#000", verticalAlign: "middle" } },
        { type: "rect", shape: { x: 1687.5, y: 64, width: 16, height: 1090 }, style: { fill: "#000" } },
        { type: "polygon", shape: { points: [[1671, 1152], [1719, 1152], [1695, 1200]] }, style: { fill: "#000" } },
        rightText("Browsers", 157),
        rightText("Mixed", 675),
        rightText("feeders", 752),
        rightText("Grazers", 1062),
      ],
    });
    return () => chart.dispose();
  }, []);
  return <div ref={ref} style={{ position: "absolute", left: 0, top: 0, width: 1990, height: 1250, background: "#f2f2f2" }} />;
}
